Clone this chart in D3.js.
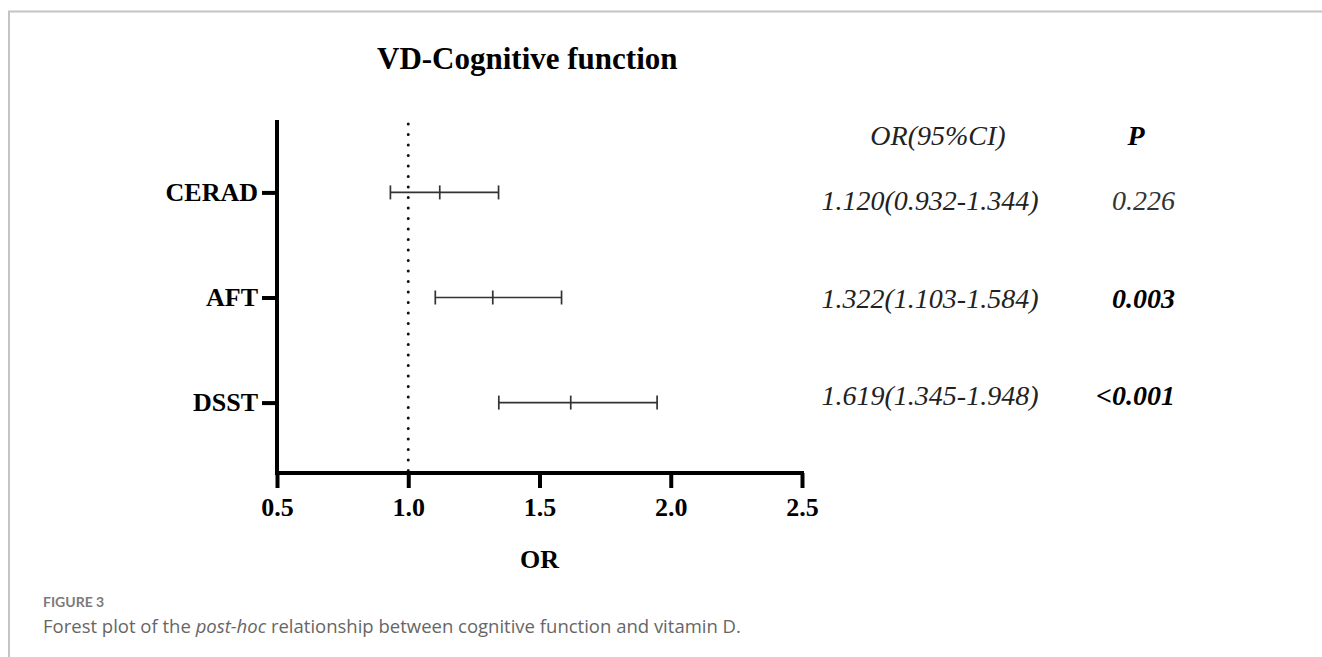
<!DOCTYPE html>
<html>
<head>
<meta charset="utf-8">
<script src="https://cdn.jsdelivr.net/npm/d3@7"></script>
<style>
  body { margin: 0; background: #fff; }
  svg { display: block; }
</style>
</head>
<body>
<svg id="chart" width="1322" height="657"></svg>
<script>
// data
const outcomes = ["CERAD", "AFT", "DSST"];
const orValues = [1.120, 1.322, 1.619];
const ciLower = [0.932, 1.103, 1.345];
const ciUpper = [1.344, 1.584, 1.948];
const pValues = ["0.226", "0.003", "<0.001"];
const pBold = [false, true, true];
const xTicks = [0.5, 1.0, 1.5, 2.0, 2.5];

const rows = outcomes.map((name, i) => ({
  name, or: orValues[i], lo: ciLower[i], hi: ciUpper[i], p: pValues[i], bold: pBold[i]
}));

const svg = d3.select("#chart");
const serif = "'Liberation Serif', 'Times New Roman', serif";

// panel frame (top + left only)
svg.append("path")
  .attr("d", "M9,657 V11.5 H1322")
  .attr("fill", "none")
  .attr("stroke", "#c4c4c4")
  .attr("stroke-width", 2);

const plotL = 277, plotR = 802, plotT = 122, plotB = 473;

// Scales
const xScale = d3.scaleLinear().domain([0.5, 2.5]).range([plotL, plotR]);
const yScale = d3.scalePoint().domain(outcomes).range([plotT, plotB]).padding(0.67);
// the text table sits slightly off the plot rows in the original
const tableY = d3.scalePoint().domain(outcomes).range([210, 405]);

// title
svg.append("text")
  .attr("x", 377).attr("y", 69)
  .attr("font-family", serif).attr("font-weight", "bold").attr("font-size", 31)
  .text("VD-Cognitive function");

// reference line at OR = 1
svg.append("line")
  .attr("x1", xScale(1)).attr("x2", xScale(1))
  .attr("y1", plotT + 2).attr("y2", plotB)
  .attr("stroke", "#111")
  .attr("stroke-width", 3)
  .attr("stroke-linecap", "round")
  .attr("stroke-dasharray", "0,10.5");

// Axes
const xAxis = d3.axisBottom(xScale).tickValues(xTicks).tickFormat(d3.format(".1f"))
  .tickSize(15).tickSizeOuter(0).tickPadding(10);
const yAxis = d3.axisLeft(yScale).tickSize(15).tickSizeOuter(0).tickPadding(4);

const gx = svg.append("g")
  .attr("transform", `translate(0, ${plotB})`)
  .call(xAxis);
const gy = svg.append("g")
  .attr("transform", `translate(${plotL}, 0)`)
  .call(yAxis);

[gx, gy].forEach(g => {
  g.select(".domain").attr("stroke", "#000").attr("stroke-width", 4).attr("stroke-linecap", "square");
  g.selectAll(".tick line").attr("stroke", "#000").attr("stroke-width", 4);
  g.selectAll(".tick text")
    .attr("fill", "#000")
    .attr("font-family", serif)
    .attr("font-weight", "bold")
    .attr("font-size", 26);
});
gy.select(".domain").attr("d", `M0,${plotT}V${plotB}`);
gx.select(".domain").attr("d", `M${plotL},0H${plotR}`);

// x axis title
svg.append("text")
  .attr("x", (plotL + plotR) / 2).attr("y", 568)
  .attr("text-anchor", "middle")
  .attr("font-family", serif).attr("font-weight", "bold").attr("font-size", 26)
  .text("OR");

// error bars
const bars = svg.append("g").attr("stroke", "#333").attr("stroke-width", 1.7);
bars.selectAll(".ci")
  .data(rows)
  .enter()
  .append("line")
  .attr("x1", d => xScale(d.lo)).attr("x2", d => xScale(d.hi))
  .attr("y1", d => yScale(d.name)).attr("y2", d => yScale(d.name));

["lo", "or", "hi"].forEach(k => {
  bars.selectAll(".cap-" + k)
    .data(rows)
    .enter()
    .append("line")
    .attr("x1", d => xScale(d[k])).attr("x2", d => xScale(d[k]))
    .attr("y1", d => yScale(d.name) - 7).attr("y2", d => yScale(d.name) + 7);
});

// table on the right
const tbl = svg.append("g").attr("font-family", serif).attr("font-style", "italic").attr("font-size", 28);

tbl.append("text")
  .attr("x", 938).attr("y", 145)
  .attr("text-anchor", "middle")
  .attr("fill", "#222")
  .text("OR(95%CI)");
tbl.append("text")
  .attr("x", 1136).attr("y", 145)
  .attr("text-anchor", "middle")
  .attr("font-weight", "bold")
  .text("P");

tbl.selectAll(".orci")
  .data(rows)
  .enter()
  .append("text")
  .attr("x", 930)
  .attr("y", d => tableY(d.name))
  .attr("text-anchor", "middle")
  .attr("fill", "#222")
  .text(d => `${d.or.toFixed(3)}(${d.lo.toFixed(3)}-${d.hi.toFixed(3)})`);

tbl.selectAll(".pval")
  .data(rows)
  .enter()
  .append("text")
  .attr("x", 1175)
  .attr("y", d => tableY(d.name))
  .attr("text-anchor", "end")
  .attr("font-weight", d => d.bold ? "bold" : "normal")
  .attr("fill", d => d.bold ? "#000" : "#333")
  .text(d => d.p);

// caption
svg.append("text")
  .attr("x", 43).attr("y", 607)
  .attr("font-family", "Lato, 'Open Sans', sans-serif")
  .attr("font-weight", "bold").attr("font-size", 14)
  .attr("fill", "#7a7a7a")
  .text("FIGURE 3");

const cap = svg.append("text")
  .attr("x", 43).attr("y", 633)
  .attr("font-family", "'Open Sans', Lato, sans-serif")
  .attr("font-size", 18.5)
  .attr("fill", "#666");
cap.append("tspan").text("Forest plot of the ");
cap.append("tspan").attr("font-style", "italic").text("post-hoc");
cap.append("tspan").text(" relationship between cognitive function and vitamin D.");
</script>
</body>
</html>
